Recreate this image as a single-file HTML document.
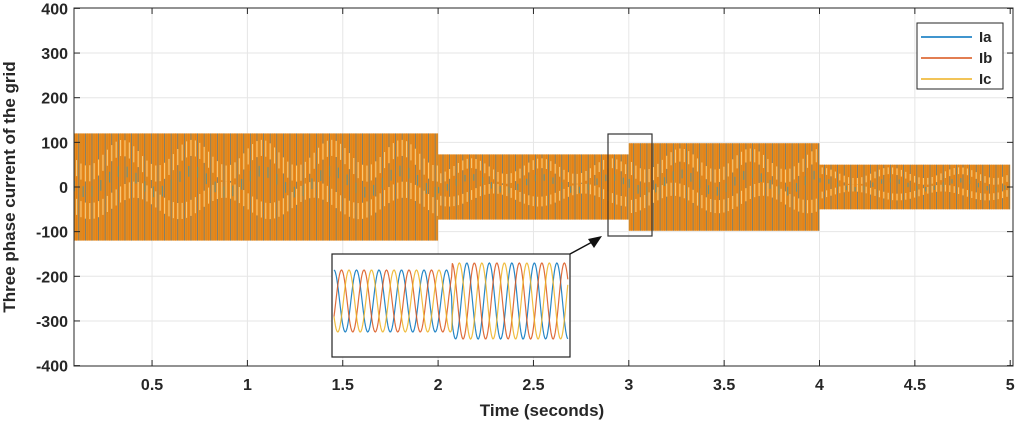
<!DOCTYPE html>
<html><head><meta charset="utf-8"><style>
body{margin:0;background:#fff;}
svg{display:block;font-family:"Liberation Sans",Arial,sans-serif;}
</style></head><body>
<svg id="s" width="1018" height="423" viewBox="0 0 1018 423" xmlns="http://www.w3.org/2000/svg">
<rect x="0" y="0" width="1018" height="423" fill="#fff"/>
<g id="grid" stroke="#e6e6e6" stroke-width="1"></g>
<g id="bands"></g>
<rect x="74" y="8" width="939" height="358" fill="none" stroke="#262626" stroke-width="1"/>
<g id="ticks" stroke="#262626" stroke-width="1"></g>
<g id="labels" font-size="16" font-weight="bold" fill="#262626"></g>
<text x="542" y="416" font-size="17" font-weight="bold" fill="#262626" text-anchor="middle">Time (seconds)</text>
<text transform="translate(15,187) rotate(-90)" font-size="17" font-weight="bold" fill="#262626" text-anchor="middle">Three phase current of the grid</text>
<rect x="608" y="134" width="44" height="102" fill="none" stroke="#333" stroke-width="1.2"/>
<line x1="570" y1="254" x2="594" y2="241" stroke="#111" stroke-width="1.5"/>
<polygon points="602,236 588,239 594,248" fill="#111"/>
<rect x="332" y="254" width="238" height="103" fill="#fff" stroke="#222" stroke-width="1.2"/>
<g id="inset" fill="none" stroke-width="1.2"></g>
<rect x="917" y="23" width="86" height="66" fill="#fff" stroke="#262626" stroke-width="1"/>
<line x1="921" y1="37" x2="972" y2="37" stroke="#0072bd" stroke-width="1.5"/>
<line x1="921" y1="58" x2="972" y2="58" stroke="#d95319" stroke-width="1.5"/>
<line x1="921" y1="79" x2="972" y2="79" stroke="#edb120" stroke-width="1.5"/>
<text x="979" y="42" font-size="15" font-weight="bold" fill="#262626">Ia</text>
<text x="979" y="63" font-size="15" font-weight="bold" fill="#262626">Ib</text>
<text x="979" y="84" font-size="15" font-weight="bold" fill="#262626">Ic</text>
</svg>
<script>
var NS="http://www.w3.org/2000/svg";
function el(p,t,a,txt){var e=document.createElementNS(NS,t);for(var k in a)e.setAttribute(k,a[k]);if(txt!==undefined)e.textContent=txt;document.getElementById(p).appendChild(e);return e;}
function X(t){return 56.7+190.7*t;}
function Y(v){return 187-v*0.4465;}
var xt=[0.5,1,1.5,2,2.5,3,3.5,4,4.5,5];
xt.forEach(function(t){var x=X(t);
 if(t<5)el("grid","line",{x1:x,y1:8,x2:x,y2:366});
 el("ticks","line",{x1:x,y1:366,x2:x,y2:360});el("ticks","line",{x1:x,y1:8,x2:x,y2:14});
 el("labels","text",{x:x,y:390,"text-anchor":"middle"},String(t));});
for(var v=-400;v<=400;v+=100){var y=Y(v);
 if(v>-400&&v<400)el("grid","line",{x1:74,y1:y,x2:1013,y2:y});
 el("ticks","line",{x1:74,y1:y,x2:80,y2:y});el("ticks","line",{x1:1013,y1:y,x2:1007,y2:y});
 el("labels","text",{x:68,y:y+6,"text-anchor":"end"},String(v));}
var segs=[[0.09,2.0,120],[2.0,3.0,73],[3.0,4.0,98],[4.0,5.0,50]];
segs.forEach(function(s){var x0=X(s[0]),x1=Math.min(X(s[1]),1013),a=s[2];
 var yt=Y(a),yb=Y(-a),h=yb-yt;
 el("bands","rect",{x:x0,y:yt,width:x1-x0,height:h,fill:"#e8891d"});
 var i=0;
 for(var x=x0+0.5;x<x1;x+=2.2){i++;
  var c=i%3==0?"#4d7d92":(i%3==1?"#c98a2a":"#e07b10");
  el("bands","line",{x1:x,y1:yt,x2:x,y2:yb,stroke:c,"stroke-width":0.8,opacity:0.8});
  var ph=Math.sin(x*0.09);
  var yl=yt+h*(0.18+0.12*ph), yl2=yt+h*(0.55+0.1*Math.cos(x*0.07));
  if(i%2==0){el("bands","line",{x1:x,y1:yl,x2:x,y2:yl+h*0.15,stroke:"#f7c978","stroke-width":1.1});
   el("bands","line",{x1:x,y1:yl2,x2:x,y2:yl2+h*0.15,stroke:"#f7c978","stroke-width":1.1});}
  if(i%4==1){el("bands","line",{x1:x,y1:yt+h*(0.4+0.1*ph),x2:x,y2:yt+h*(0.5+0.1*ph),stroke:"#6f8f7a","stroke-width":1.2});}
 }});
var cols=["#0072bd","#d95319","#edb120"];
for(var k=0;k<3;k++){var d="";
 for(var x=334;x<=568;x+=0.7){var tr=452, left=x<tr;
  var A=left?31:38, c=left?301:301, P=22.5;
  var ph=2*Math.PI*(x-334)/P - k*2*Math.PI/3 + (left?0:0.6);
  var y=c - A*Math.cos(ph);
  d+=(d?"L":"M")+x.toFixed(1)+","+y.toFixed(1);}
 el("inset","path",{d:d,stroke:cols[k],opacity:0.85});}
</script>
</body></html>
